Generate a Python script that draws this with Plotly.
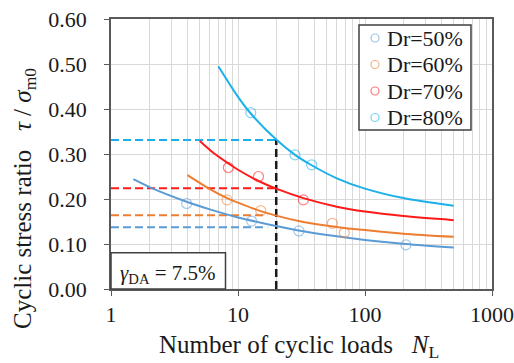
import plotly.graph_objects as go

# ---- data ----
series_names = ["Dr=50%", "Dr=60%", "Dr=70%", "Dr=80%"]
line_colors = ["#5b9bd5", "#ed7d31", "#ff1a1a", "#1cb0ea"]

# test points (number of cycles, cyclic stress ratio)
pts_n_50 = [3.94, 12.8, 30.2, 210]
pts_r_50 = [0.190, 0.151, 0.129, 0.098]
pts_n_60 = [8.2, 15.1, 55.3, 68.7]
pts_r_60 = [0.198, 0.174, 0.146, 0.125]
pts_n_70 = [8.4, 14.5, 32.7]
pts_r_70 = [0.270, 0.250, 0.198]
pts_n_80 = [12.6, 28.1, 38.0]
pts_r_80 = [0.392, 0.298, 0.276]

# fitted curves
fit_n_50 = [1.5, 2.03, 3.94, 6, 10, 20, 30, 60, 100, 210, 500]
fit_r_50 = [0.244, 0.226, 0.194, 0.177, 0.159, 0.140, 0.130, 0.117, 0.109, 0.100, 0.092]
fit_n_60 = [4.0, 6, 8.2, 10, 15.1, 20, 32.7, 60, 100, 200, 500]
fit_r_60 = [0.253, 0.222, 0.202, 0.192, 0.173, 0.163, 0.149, 0.138, 0.131, 0.123, 0.116]
fit_n_70 = [5.0, 6.5, 8.4, 10, 14.5, 20, 32.7, 60, 100, 200, 500]
fit_r_70 = [0.329, 0.301, 0.279, 0.265, 0.240, 0.223, 0.202, 0.183, 0.172, 0.162, 0.153]
fit_n_80 = [7.0, 10, 12.6, 20, 28.1, 38.0, 60, 100, 200, 500]
fit_r_80 = [0.495, 0.427, 0.390, 0.332, 0.298, 0.275, 0.246, 0.223, 0.202, 0.185]

# CSR at N = 20 (dashed reference lines) and where each dashed line stops
n_ref = 20
csr_at_ref = [0.137, 0.164, 0.224, 0.331]
dash_end_n = [17, 17, 20, 20]

x_ticks = [1, 10, 100, 1000]
x_ticktext = ["1", "10", "100", "1000"]
y_ticks = [0.0, 0.1, 0.2, 0.3, 0.4, 0.5, 0.6]

pts_n = [pts_n_50, pts_n_60, pts_n_70, pts_n_80]
pts_r = [pts_r_50, pts_r_60, pts_r_70, pts_r_80]
fit_n = [fit_n_50, fit_n_60, fit_n_70, fit_n_80]
fit_r = [fit_r_50, fit_r_60, fit_r_70, fit_r_80]

FONT = "Liberation Serif, Times New Roman, serif"
TXT = "#1a1a1a"

# plot-area geometry (pixels) used for paper-coordinate placement of decorations
W, H = 514, 363
ML, MR, MT, MB = 111, 22, 19, 74
PW, PH = W - ML - MR, H - MT - MB


def px_x(px):
    return (px - ML) / PW


def px_y(py):
    return (H - MB - py) / PH


def rgba(hexc, a):
    h = hexc.lstrip("#")
    r, g, b = int(h[0:2], 16), int(h[2:4], 16), int(h[4:6], 16)
    return f"rgba({r},{g},{b},{a})"


fig = go.Figure()

# dashed horizontal reference lines
for c, v, xe in zip(line_colors, csr_at_ref, dash_end_n):
    fig.add_trace(go.Scatter(x=[1, xe], y=[v, v], mode="lines",
                             line=dict(color=c, width=2, dash="8px,4px"),
                             showlegend=False, hoverinfo="skip"))

# vertical dashed line at N = 20
fig.add_trace(go.Scatter(x=[n_ref, n_ref], y=[0, max(csr_at_ref)], mode="lines",
                         line=dict(color="#1a1a1a", width=2.5, dash="8px,4px"),
                         showlegend=False, hoverinfo="skip"))

# fitted curves
for c, xn, yr in zip(line_colors, fit_n, fit_r):
    fig.add_trace(go.Scatter(x=xn, y=yr, mode="lines",
                             line=dict(color=c, width=2, shape="spline", smoothing=0.8),
                             showlegend=False, hoverinfo="skip"))

# test points
for name, c, xn, yr in zip(series_names, line_colors, pts_n, pts_r):
    fig.add_trace(go.Scatter(x=xn, y=yr, mode="markers", name=name, showlegend=False,
                             marker=dict(symbol="circle-open", size=10,
                                         color=rgba(c, 0.55),
                                         line=dict(width=1.2, color=rgba(c, 0.55)))))

minor_vals = [m * d for d in (1, 10, 100) for m in range(2, 10)]

fig.update_xaxes(type="log", range=[0, 3], tickvals=x_ticks, ticktext=x_ticktext,
                 automargin=False,
                 showline=True, linecolor="#595959", linewidth=1.5, mirror=True,
                 ticks="outside", ticklen=5, tickcolor="#595959", tickwidth=1,
                 showgrid=True, gridcolor="#d9d9d9", gridwidth=1,
                 minor=dict(tickvals=minor_vals, showgrid=True, gridcolor="#d9d9d9",
                            gridwidth=1, ticks=""),
                 tickfont=dict(family=FONT, size=22, color=TXT), zeroline=False)
fig.update_yaxes(range=[0, 0.6], tickvals=y_ticks, tickformat=".2f",
                 automargin=False, ticklabelstandoff=13,
                 showline=True, linecolor="#595959", linewidth=1.5, mirror=True,
                 ticks="outside", ticklen=5, tickcolor="#595959", tickwidth=1,
                 showgrid=True, gridcolor="#d9d9d9", gridwidth=1,
                 tickfont=dict(family=FONT, size=22, color=TXT), zeroline=False)

# gamma_DA box
fig.add_shape(type="rect", xref="paper", yref="paper", x0=0, x1=px_x(225.5), y0=0, y1=px_y(252.7),
              line=dict(color="#404040", width=1.5), fillcolor="white", layer="above")
fig.add_annotation(xref="paper", yref="paper", x=px_x(168), y=px_y(274),
                   xanchor="center", yanchor="middle",
                   text="<i>γ</i><sub>DA</sub> = 7.5%", showarrow=False,
                   font=dict(family=FONT, size=21, color=TXT))

# legend box (drawn manually for exact placement)
fig.add_shape(type="rect", xref="paper", yref="paper",
              x0=px_x(359), x1=px_x(471), y0=px_y(130), y1=px_y(25),
              line=dict(color="#404040", width=1.5), fillcolor="white", layer="above")
row_y = [38, 64.5, 91, 117.5]
for name, c, ry in zip(series_names, line_colors, row_y):
    fig.add_shape(type="circle", xref="paper", yref="paper",
                  x0=px_x(371), x1=px_x(379), y0=px_y(ry + 4), y1=px_y(ry - 4),
                  line=dict(color=rgba(c, 0.6), width=1.2), layer="above")
    fig.add_annotation(xref="paper", yref="paper", x=px_x(385), y=px_y(ry),
                       xanchor="left", yanchor="middle", text=name, showarrow=False,
                       font=dict(family=FONT, size=22, color=TXT))

# axis titles as annotations
fig.add_annotation(xref="paper", yref="paper", x=px_x(299), y=px_y(346.5),
                   xanchor="center", yanchor="middle",
                   text="Number of cyclic loads   <i>N</i><sub>L</sub>", showarrow=False,
                   font=dict(family=FONT, size=25, color=TXT))
fig.add_annotation(xref="paper", yref="paper", x=px_x(24), y=px_y(199), textangle=-90,
                   xanchor="center", yanchor="middle",
                   text="Cyclic stress ratio   <i>τ</i> / <i>σ</i><sub>m0</sub>", showarrow=False,
                   font=dict(family=FONT, size=25, color=TXT))

fig.update_layout(
    template="none",
    width=W, height=H,
    margin=dict(l=ML, r=MR, t=MT, b=MB),
    paper_bgcolor="white", plot_bgcolor="white",
    font=dict(family=FONT, color=TXT),
    showlegend=False,
)

fig.write_html("out.html", config={"displayModeBar": False},
               post_script="document.body.style.margin='0';document.body.style.padding='0';")
